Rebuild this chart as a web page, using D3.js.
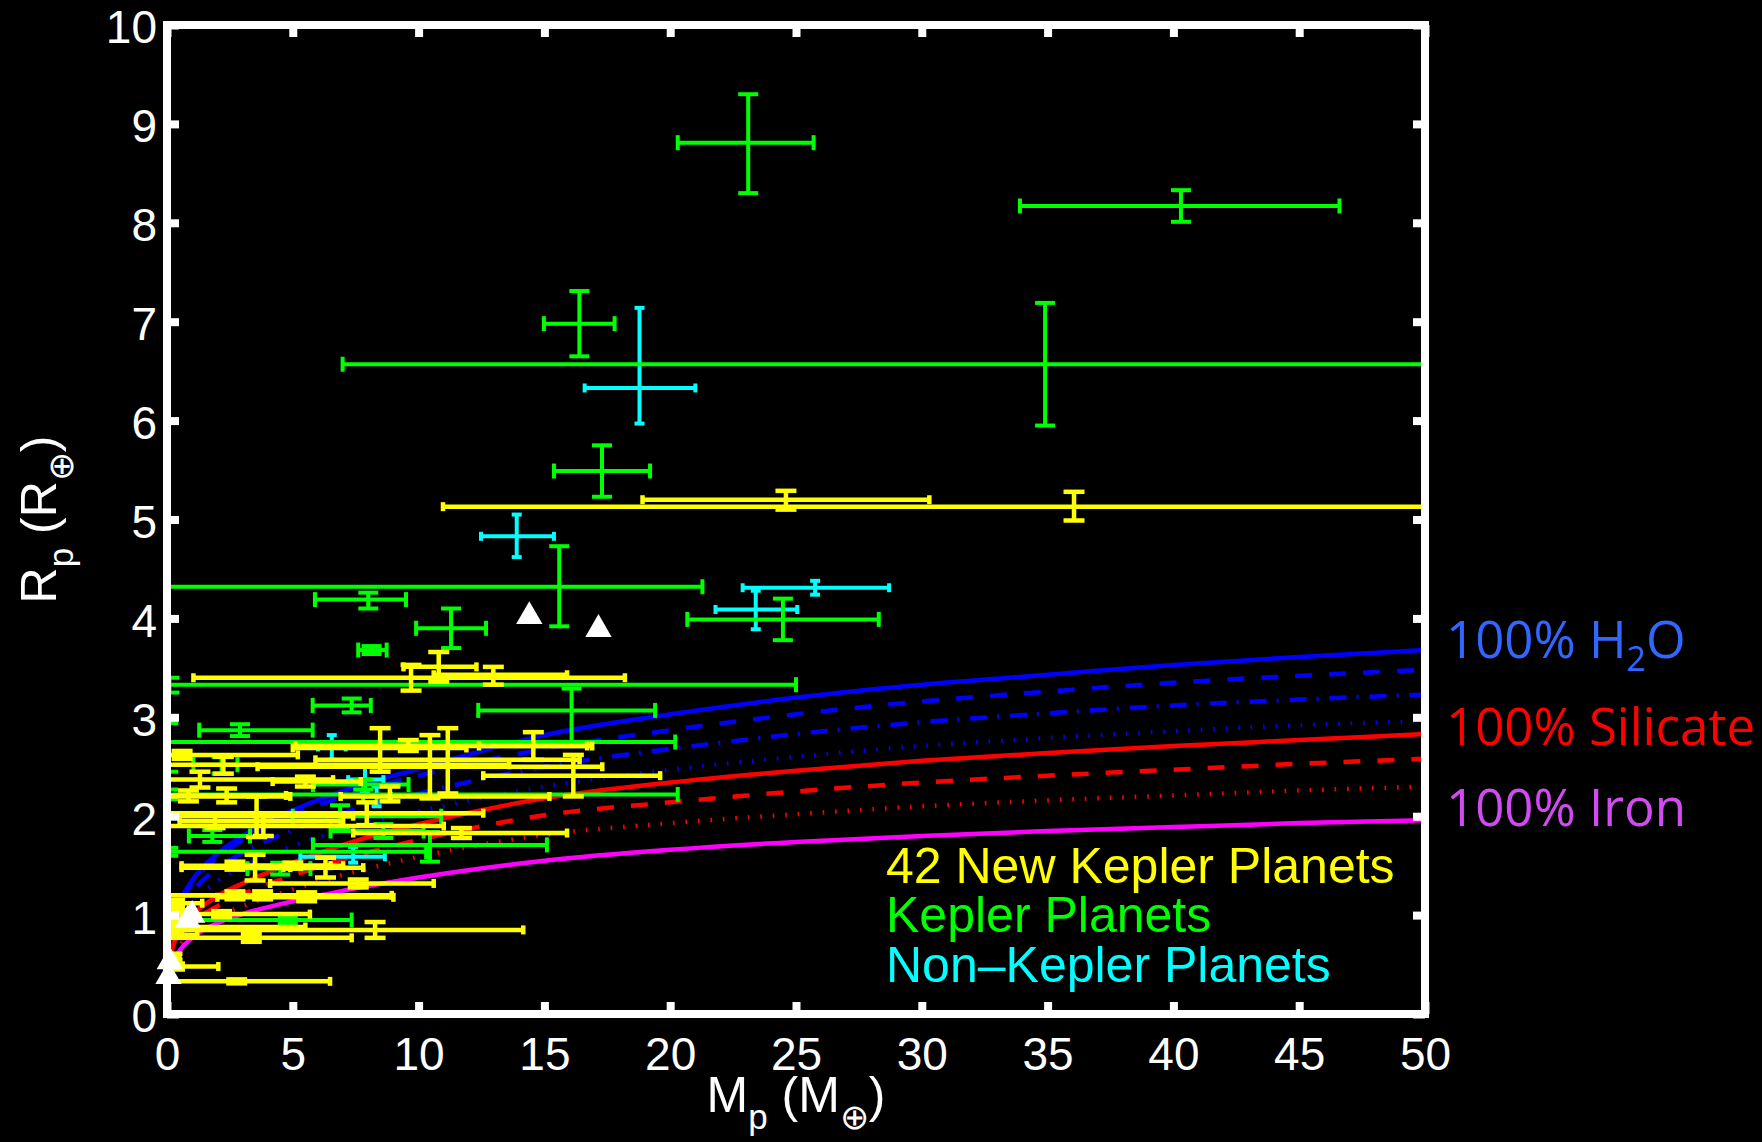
<!DOCTYPE html>
<html>
<head>
<meta charset="utf-8">
<script src="https://cdn.jsdelivr.net/npm/d3@7"></script>
<style>
  html, body { margin: 0; padding: 0; background: #000; }
  svg { display: block; }
</style>
</head>
<body>
<script>
// ---- Axis ticks ----
const massTicks = [0, 5, 10, 15, 20, 25, 30, 35, 40, 45, 50];
const radiusTicks = [0, 1, 2, 3, 4, 5, 6, 7, 8, 9, 10];

// ---- Composition curves (mass in Earth masses, radius in Earth radii) ----
const curveMass   = [0.001, 0.01, 0.05, 0.2, 0.5, 1, 2, 3, 5, 7.5, 10, 15, 20, 25, 30, 35, 40, 45, 50];
const water100    = [0.17, 0.34, 0.56, 0.84, 1.12, 1.35, 1.62, 1.80, 2.06, 2.30, 2.48, 2.82, 3.03, 3.20, 3.33, 3.43, 3.53, 3.61, 3.68];
const water75     = [0.16, 0.33, 0.54, 0.82, 1.09, 1.32, 1.58, 1.76, 2.01, 2.24, 2.41, 2.68, 2.87, 3.03, 3.16, 3.26, 3.35, 3.42, 3.48];
const water50     = [0.15, 0.31, 0.51, 0.77, 1.02, 1.23, 1.47, 1.63, 1.86, 2.07, 2.23, 2.50, 2.68, 2.83, 2.95, 3.04, 3.12, 3.18, 3.23];
const water25     = [0.14, 0.28, 0.47, 0.71, 0.93, 1.12, 1.34, 1.49, 1.70, 1.90, 2.05, 2.30, 2.47, 2.60, 2.71, 2.79, 2.86, 2.92, 2.96];
const silicate100 = [0.13, 0.26, 0.43, 0.65, 0.84, 1.00, 1.19, 1.32, 1.53, 1.75, 1.92, 2.18, 2.34, 2.46, 2.56, 2.64, 2.71, 2.77, 2.83];
const silicate67  = [0.12, 0.24, 0.40, 0.60, 0.77, 0.92, 1.09, 1.21, 1.40, 1.60, 1.76, 2.01, 2.14, 2.25, 2.34, 2.41, 2.47, 2.53, 2.58];
const silicate33  = [0.11, 0.22, 0.36, 0.54, 0.69, 0.82, 0.98, 1.09, 1.26, 1.44, 1.59, 1.81, 1.93, 2.02, 2.10, 2.16, 2.21, 2.26, 2.30];
const iron100     = [0.09, 0.19, 0.32, 0.49, 0.64, 0.77, 0.92, 1.01, 1.14, 1.27, 1.38, 1.55, 1.66, 1.74, 1.80, 1.85, 1.89, 1.93, 1.96];

// ---- Planets: [mass, radius, massLow, massHigh, radiusLow, radiusHigh] ----
const newKeplerPlanets = [
  [24.6, 5.20, 18.9, 30.3, 5.10, 5.29],
  [36.05, 5.13, 10.97, 61.1, 4.99, 5.28],
  [10.8, 3.51, 9.4, 12.3, 3.36, 3.66],
  [12.97, 3.43, 10.6, 15.9, 3.33, 3.51],
  [9.7, 3.40, 1.05, 18.2, 3.27, 3.53],
  [8.47, 2.69, 5.0, 11.9, 2.45, 2.89],
  [9.59, 2.71, 5.1, 16.9, 2.66, 2.77],
  [10.45, 2.50, 3.6, 17.3, 2.18, 2.82],
  [11.16, 2.57, 5.9, 16.4, 2.23, 2.89],
  [14.56, 2.71, 12.4, 16.7, 2.57, 2.85],
  [16.15, 2.41, 12.57, 19.6, 2.20, 2.62],
  [2.24, 2.52, -1.0, 13.6, 2.43, 2.60],
  [1.31, 2.37, -1.0, 6.6, 2.29, 2.45],
  [0.85, 2.20, -1.0, 4.9, 2.15, 2.26],
  [2.37, 2.21, -1.0, 4.73, 2.14, 2.28],
  [8.86, 2.20, 6.9, 15.2, 2.15, 2.30],
  [3.56, 2.00, -1.0, 7.4, 1.79, 2.20],
  [7.94, 2.03, -1.0, 12.57, 1.91, 2.14],
  [1.91, 1.95, 0.5, 7.0, 1.88, 2.03],
  [3.83, 1.90, -1.0, 11.0, 1.80, 2.00],
  [11.7, 1.83, 7.4, 15.9, 1.78, 1.88],
  [3.5, 1.48, 0.58, 4.62, 1.35, 1.61],
  [2.7, 1.50, 0.58, 6.5, 1.46, 1.54],
  [6.3, 1.48, 4.9, 7.8, 1.38, 1.58],
  [5.0, 1.50, 3.0, 7.0, 1.47, 1.53],
  [7.6, 1.32, 4.1, 10.6, 1.28, 1.36],
  [2.7, 1.20, -1.0, 5.55, 1.16, 1.24],
  [3.8, 1.20, -1.0, 8.93, 1.16, 1.24],
  [5.55, 1.18, 2.0, 9.0, 1.14, 1.23],
  [2.17, 1.01, -1.0, 5.68, 0.98, 1.04],
  [8.27, 0.85, -1.0, 14.16, 0.77, 0.93],
  [3.35, 0.77, -1.0, 7.34, 0.73, 0.81],
  [0.3, 1.12, -1.0, 1.4, 1.09, 1.15],
  [0.2, 0.95, -1.0, 1.0, 0.92, 0.98],
  [0.4, 0.88, -1.0, 5.5, 0.85, 0.91],
  [0.25, 0.80, -1.0, 1.2, 0.77, 0.83],
  [0.2, 0.58, -1.0, 0.5, 0.55, 0.61],
  [0.3, 0.48, -1.0, 2.04, 0.45, 0.51],
  [2.77, 0.33, -1.0, 6.48, 0.31, 0.35],
  [0.2, 1.05, -1.0, 0.9, 1.02, 1.08],
  [0.6, 2.62, -1.0, 5.2, 2.58, 2.66],
  [5.5, 2.35, 4.2, 7.7, 2.30, 2.40]
];

const keplerPlanets = [
  [23.1, 8.81, 20.3, 25.7, 8.30, 9.30],
  [40.3, 8.17, 33.9, 46.6, 8.01, 8.33],
  [16.39, 6.98, 14.98, 17.79, 6.65, 7.31],
  [34.9, 6.57, 6.98, 62.8, 5.95, 7.19],
  [17.29, 5.49, 15.38, 19.2, 5.23, 5.75],
  [15.59, 4.32, 0.05, 21.28, 3.92, 4.73],
  [24.48, 3.99, 20.68, 28.29, 3.78, 4.20],
  [8.0, 4.19, 5.88, 9.5, 4.10, 4.26],
  [11.29, 3.90, 9.9, 12.68, 3.70, 4.10],
  [8.13, 3.68, 7.6, 8.73, 3.64, 3.72],
  [0.1, 3.33, -5.0, 25.0, 3.25, 3.40],
  [7.34, 3.12, 5.79, 8.1, 3.05, 3.19],
  [16.08, 3.07, 12.37, 19.4, 2.75, 3.29],
  [2.9, 2.87, 1.28, 5.79, 2.81, 2.93],
  [0.05, 2.75, -5.0, 20.2, 2.45, 2.94],
  [2.17, 2.52, 1.05, 2.8, 2.43, 2.60],
  [7.8, 2.32, 5.8, 9.6, 2.27, 2.37],
  [0.05, 2.22, -5.0, 20.3, 2.17, 2.27],
  [6.88, 2.00, 5.0, 10.9, 1.89, 2.11],
  [1.8, 1.80, 0.87, 3.3, 1.74, 1.86],
  [8.6, 1.85, 6.5, 10.2, 1.78, 1.92],
  [10.45, 1.71, 5.8, 15.1, 1.54, 1.84],
  [0.05, 1.64, -5.0, 10.3, 1.60, 1.68],
  [4.5, 1.47, 3.2, 5.7, 1.41, 1.53],
  [4.8, 0.95, 1.1, 7.34, 0.92, 0.98]
];

const nonKeplerPlanets = [
  [18.78, 6.33, 16.6, 21.0, 5.97, 7.14],
  [13.9, 4.83, 12.48, 15.38, 4.62, 5.05],
  [25.76, 4.31, 22.88, 28.7, 4.24, 4.38],
  [23.4, 4.09, 21.8, 25.05, 3.89, 4.28],
  [6.55, 2.70, 6.0, 7.1, 2.57, 2.82],
  [7.87, 2.37, 7.2, 8.6, 2.23, 2.50],
  [8.33, 2.20, 7.8, 8.9, 2.10, 2.30],
  [7.4, 1.59, 5.3, 8.66, 1.53, 1.69]
];

// Solar-system planets: Mercury, Mars, Venus, Earth, Uranus, Neptune
const solarSystem = [
  [0.06, 0.38], [0.11, 0.53], [0.82, 0.95], [1.0, 1.0], [14.4, 4.02], [17.15, 3.89]
];

// ---- Layout ----
const W = 1762, H = 1142;
const plot = { left: 167, right: 1425, top: 25, bottom: 1014 };

const x = d3.scaleLinear().domain([0, 50]).range([plot.left, plot.right]);
const y = d3.scaleLinear().domain([0, 10]).range([plot.bottom, plot.top]);

const svg = d3.select("body").append("svg")
  .attr("width", W).attr("height", H)
  .style("background", "#000");

svg.append("defs").append("clipPath").attr("id", "plotClip")
  .append("rect")
  .attr("x", plot.left).attr("y", plot.top)
  .attr("width", plot.right - plot.left)
  .attr("height", plot.bottom - plot.top);

// ---- Curves ----
const curves = [
  { r: water100,    color: "#0000ff", dash: null },
  { r: water75,     color: "#0000ff", dash: "17,17" },
  { r: water50,     color: "#0000ff", dash: "17,10,2,11" },
  { r: water25,     color: "#0000ff", dash: "1.6,10.9" },
  { r: silicate100, color: "#ff0000", dash: null },
  { r: silicate67,  color: "#ff0000", dash: "17,17" },
  { r: silicate33,  color: "#ff0000", dash: "1.6,10.9" },
  { r: iron100,     color: "#ff00ff", dash: null }
];

const line = d3.line()
  .x(d => x(d[0]))
  .y(d => y(d[1]))
  .curve(d3.curveMonotoneX);

const curveLayer = svg.append("g").attr("clip-path", "url(#plotClip)");
curves.forEach(c => {
  curveLayer.append("path")
    .datum(curveMass.map((m, i) => [m, c.r[i]]))
    .attr("d", line)
    .attr("fill", "none")
    .attr("stroke", c.color)
    .attr("stroke-width", 4.5)
    .attr("stroke-dasharray", c.dash)
    .attr("stroke-linecap", "butt");
});

// ---- Error bars ----
function drawErrorBars(data, color, vCapHalf, hCapHalf, width) {
  const g = svg.append("g").attr("clip-path", "url(#plotClip)")
    .attr("stroke", color).attr("stroke-width", width).attr("fill", "none");
  data.forEach(d => {
    const [m, r, mLo, mHi, rLo, rHi] = d;
    const px = x(m), py = y(r);
    const segs = [
      [x(mLo), py, x(mHi), py],
      [x(mLo), py - hCapHalf, x(mLo), py + hCapHalf],
      [x(mHi), py - hCapHalf, x(mHi), py + hCapHalf],
      [px, y(rLo), px, y(rHi)],
      [px - vCapHalf, y(rLo), px + vCapHalf, y(rLo)],
      [px - vCapHalf, y(rHi), px + vCapHalf, y(rHi)]
    ];
    segs.forEach(s => {
      g.append("line")
        .attr("x1", s[0]).attr("y1", s[1])
        .attr("x2", s[2]).attr("y2", s[3]);
    });
  });
}

drawErrorBars(nonKeplerPlanets, "#00ffff", 5, 4.5, 4);
drawErrorBars(keplerPlanets, "#00ff00", 10, 7.5, 4);
drawErrorBars(newKeplerPlanets, "#ffff00", 10.5, 4.5, 4.5);

// ---- Solar-system triangles ----
svg.append("g").selectAll("path")
  .data(solarSystem)
  .join("path")
  .attr("transform", d => `translate(${x(d[0])},${y(d[1])})`)
  .attr("d", d3.symbol(d3.symbolTriangle, 300))
  .attr("fill", "#ffffff");

// ---- Axes frame and ticks ----
const tickFont = "'Liberation Sans', Arial, Helvetica, sans-serif";

const bottomAxis = svg.append("g")
  .attr("transform", `translate(0,${plot.bottom})`)
  .call(d3.axisBottom(x).tickValues(massTicks).tickSizeInner(-12).tickSizeOuter(0).tickPadding(23));
const leftAxis = svg.append("g")
  .attr("transform", `translate(${plot.left},0)`)
  .call(d3.axisLeft(y).tickValues(radiusTicks).tickSizeInner(-12).tickSizeOuter(0).tickPadding(10));
const topAxis = svg.append("g")
  .attr("transform", `translate(0,${plot.top})`)
  .call(d3.axisTop(x).tickValues(massTicks).tickSizeInner(-12).tickSizeOuter(0).tickFormat(""));
const rightAxis = svg.append("g")
  .attr("transform", `translate(${plot.right},0)`)
  .call(d3.axisRight(y).tickValues(radiusTicks).tickSizeInner(-12).tickSizeOuter(0).tickFormat(""));

[bottomAxis, leftAxis, topAxis, rightAxis].forEach(a => {
  a.select(".domain").remove();
  a.selectAll(".tick line").attr("stroke", "#fff").attr("stroke-width", 8);
  a.selectAll(".tick text")
    .attr("fill", "#fff")
    .style("font-family", tickFont)
    .style("font-size", "46px");
});
leftAxis.selectAll(".tick text").attr("dy", "0.39em");

svg.append("rect")
  .attr("x", plot.left).attr("y", plot.top)
  .attr("width", plot.right - plot.left)
  .attr("height", plot.bottom - plot.top)
  .attr("fill", "none")
  .attr("stroke", "#fff")
  .attr("stroke-width", 8);

// ---- Axis titles ----
const xTitle = svg.append("text")
  .attr("x", (plot.left + plot.right) / 2)
  .attr("y", 1112)
  .attr("text-anchor", "middle")
  .attr("fill", "#fff")
  .style("font-family", tickFont)
  .style("font-size", "50px");
xTitle.append("tspan").text("M");
xTitle.append("tspan").attr("dy", 17).style("font-size", "35px").text("p");
xTitle.append("tspan").attr("dy", -17).text(" (M");
xTitle.append("tspan").attr("dy", 17).style("font-size", "35px").text("⊕");
xTitle.append("tspan").attr("dy", -17).text(")");

const yTitle = svg.append("text")
  .attr("transform", `translate(56,${(plot.top + plot.bottom) / 2}) rotate(-90)`)
  .attr("text-anchor", "middle")
  .attr("fill", "#fff")
  .style("font-family", tickFont)
  .style("font-size", "50px");
yTitle.append("tspan").text("R");
yTitle.append("tspan").attr("dy", 17).style("font-size", "35px").text("p");
yTitle.append("tspan").attr("dy", -17).text(" (R");
yTitle.append("tspan").attr("dy", 17).style("font-size", "35px").text("⊕");
yTitle.append("tspan").attr("dy", -17).text(")");

// ---- Legend text inside the plot ----
const legendItems = [
  { text: "42 New Kepler Planets", color: "#ffff00", y: 883 },
  { text: "Kepler Planets", color: "#00ff00", y: 932 },
  { text: "Non\u2013Kepler Planets", color: "#00ffff", y: 982 }
];
svg.append("g").selectAll("text")
  .data(legendItems)
  .join("text")
  .attr("x", 886)
  .attr("y", d => d.y)
  .attr("fill", d => d.color)
  .style("font-family", tickFont)
  .style("font-size", "50px")
  .text(d => d.text);

// ---- Curve labels on the right ----
const labelFont = "'Open Sans', 'Noto Sans', sans-serif";
const h2oLabel = svg.append("text")
  .attr("x", 1446).attr("y", 658)
  .attr("fill", "#3366ff")
  .style("font-family", labelFont)
  .style("font-size", "51px");
h2oLabel.append("tspan").text("100% H");
h2oLabel.append("tspan").attr("dy", 13).style("font-size", "34px").text("2");
h2oLabel.append("tspan").attr("dy", -13).text("O");

svg.append("text")
  .attr("x", 1446).attr("y", 745)
  .attr("fill", "#ff0000")
  .style("font-family", labelFont)
  .style("font-size", "51px")
  .text("100% Silicate");

svg.append("text")
  .attr("x", 1446).attr("y", 826)
  .attr("fill", "#d24bf0")
  .style("font-family", labelFont)
  .style("font-size", "51px")
  .text("100% Iron");
</script>
</body>
</html>
